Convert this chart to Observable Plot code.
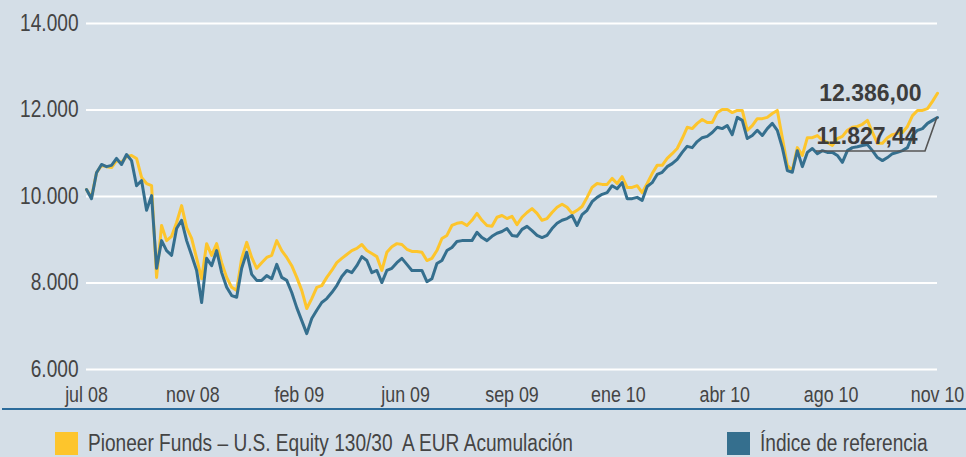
<!DOCTYPE html>
<html>
<head>
<meta charset="utf-8">
<script src="https://cdn.jsdelivr.net/npm/d3@7"></script>
<script src="https://cdn.jsdelivr.net/npm/@observablehq/plot@0.6"></script>
<style>
html, body { margin: 0; padding: 0; background: #d4dee7; width: 966px; height: 457px; overflow: hidden; }
#chart svg { display: block; }
.rule { height: 2px; background: #2b6b9b; margin-left: 2px; }
.legend { position: relative; height: 47px; font-family: "Liberation Sans", Arial, sans-serif; font-size: 23px; color: #444; }
.sw { position: absolute; top: 22px; width: 23px; height: 23px; }
.lab { position: absolute; top: 20px; line-height: 26px; white-space: pre; transform: scaleX(0.83); transform-origin: 0 50%; }
</style>
</head>
<body>
<div id="chart"></div>
<div class="rule"></div>
<div class="legend" id="legend"></div>
<script>
// Tick labels (evenly spaced along the x axis)
const xLabels = ["jul 08", "nov 08", "feb 09", "jun 09", "sep 09", "ene 10", "abr 10", "ago 10", "nov 10"];
const yTicks = [6000, 8000, 10000, 12000, 14000];

const seriesNames = ["Pioneer Funds \u2013 U.S. Equity 130/30  A EUR Acumulaci\u00f3n", "\u00cdndice de referencia"];
const seriesColors = ["#fdc52c", "#356f8e"];

const fund = [
 10160, 9980, 10550, 10720, 10690, 10670, 10830, 10790, 10920, 10950,
 10880, 10440, 10300, 10250, 8130, 9330, 8980, 9080, 9400, 9790,
 9280, 9030, 8570, 8100, 8910, 8640, 8910, 8470, 8130, 7900,
 7830, 8570, 8940, 8590, 8340, 8470, 8590, 8640, 8980, 8750,
 8590, 8400, 8130, 7830, 7410, 7640, 7900, 7940, 8130, 8290,
 8470, 8570, 8660, 8750, 8800, 8890, 8750, 8680, 8610, 8290,
 8710, 8840, 8910, 8890, 8780, 8730, 8730, 8710, 8520, 8570,
 8750, 9030, 9100, 9330, 9380, 9400, 9330, 9450, 9610, 9450,
 9330, 9310, 9520, 9560, 9490, 9540, 9350, 9520, 9630, 9720,
 9610, 9450, 9490, 9630, 9750, 9820, 9750, 9610, 9680, 9770,
 9980, 10210, 10300, 10280, 10280, 10420, 10300, 10460, 10210, 10210,
 10250, 10090, 10300, 10530, 10720, 10720, 10880, 10990, 11110, 11340,
 11600, 11570, 11690, 11780, 11710, 11710, 11940, 12010, 12010, 11940,
 11990, 11990, 11530, 11640, 11800, 11800, 11830, 11920, 11990, 11360,
 10720, 10600, 11130, 10950, 11360, 11360, 11410, 11300, 11250, 11180,
 11340, 11390, 11530, 11600, 11620, 11670, 11760, 11480, 11230, 11230,
 11360, 11430, 11460, 11480, 11620, 11870, 11990, 11990, 12030, 12200,
 12386.00
];

// Benchmark index values
const index = [
 10160, 9950, 10550, 10740, 10690, 10720, 10880, 10740, 10970, 10830,
 10250, 10370, 9680, 10020, 8340, 8980, 8750, 8640, 9260, 9450,
 8980, 8640, 8290, 7550, 8570, 8400, 8750, 8240, 7900, 7710,
 7670, 8340, 8710, 8200, 8060, 8060, 8170, 8100, 8430, 8130,
 8060, 7780, 7430, 7130, 6830, 7180, 7370, 7550, 7640, 7780,
 7940, 8150, 8290, 8240, 8400, 8610, 8520, 8240, 8290, 8010,
 8290, 8340, 8470, 8570, 8430, 8290, 8290, 8290, 8030, 8100,
 8450, 8520, 8750, 8820, 8960, 8980, 8980, 8980, 9170, 9050,
 8980, 9080, 9150, 9190, 9260, 9100, 9080, 9240, 9310, 9210,
 9100, 9050, 9100, 9260, 9380, 9450, 9490, 9560, 9330, 9580,
 9680, 9880, 9980, 10050, 10090, 10250, 10180, 10320, 9950, 9950,
 9980, 9910, 10230, 10320, 10510, 10560, 10690, 10760, 10860, 11020,
 11160, 11130, 11270, 11360, 11390, 11480, 11600, 11570, 11640, 11430,
 11830, 11760, 11340, 11410, 11530, 11410, 11570, 11690, 11530, 11130,
 10600, 10560, 11060, 10690, 11020, 11110, 10990, 11060, 11020, 11020,
 10950, 10790, 11060, 11130, 11150, 11180, 11200, 11060, 10900, 10830,
 10900, 10990, 11020, 11060, 11130, 11410, 11530, 11570, 11690, 11760,
 11827.44
];

const n = fund.length;
const rows = (arr) => arr.map((v, i) => ({i, v}));
const step = (n - 1) / (xLabels.length - 1);
const xTickPos = xLabels.map((_, k) => k * step);

const fmtY = d => d3.format(",")(d).replace(/,/g, ".");
const es = d3.formatLocale({decimal: ",", thousands: ".", grouping: [3], currency: ["", ""]});
const fmt2 = es.format(",.2f");

const lastFund = {i: n - 1, v: fund[n - 1]};
const lastIndex = {i: n - 1, v: index[n - 1]};

const chart = Plot.plot({
  width: 966,
  height: 408,
  marginLeft: 86,
  marginRight: 29,
  marginTop: 23,
  marginBottom: 39,
  style: {background: "transparent", fontFamily: "'Liberation Sans', Arial, sans-serif", fontSize: "23px", color: "#444", overflow: "visible"},
  x: {domain: [0, n - 1], axis: null},
  y: {domain: [6000, 14000], axis: null},
  marks: [
    Plot.ruleY(yTicks, {stroke: "#ffffff", strokeWidth: 2.2}),
    Plot.axisY(yTicks, {tickSize: 0, tickPadding: 8, tickFormat: fmtY, fill: "#444", label: null, fontSize: 23}),
    Plot.axisX(xTickPos, {tickSize: 0, tickPadding: 17, tickFormat: d => xLabels[Math.round(d / step)], fill: "#444", label: null, fontSize: 21.5}),
    Plot.line(rows(fund), {x: "i", y: "v", stroke: seriesColors[0], strokeWidth: 3, strokeLinejoin: "round"}),
    Plot.line(rows(index), {x: "i", y: "v", stroke: seriesColors[1], strokeWidth: 3, strokeLinejoin: "round"}),
    Plot.text([lastFund], {x: "i", y: "v", text: d => fmt2(d.v), textAnchor: "end", dx: -16, dy: 0, fontWeight: "bold", fontSize: 23, fill: "#3c3c3c"}),
    Plot.text([lastIndex], {x: "i", y: "v", text: d => fmt2(d.v), textAnchor: "end", dx: -20, dy: 19, fontWeight: "bold", fontSize: 23, fill: "#3c3c3c"})
  ]
});
document.getElementById("chart").appendChild(chart);

// condense the tick labels (the original uses a narrow typeface)
d3.select(chart).selectAll("g[aria-label$='tick label'] text").each(function () {
  const w = this.getComputedTextLength();
  this.setAttribute("textLength", (w * 0.83).toFixed(1));
  this.setAttribute("lengthAdjust", "spacingAndGlyphs");
});

// leader line from the benchmark label to the last benchmark point
const sx = chart.scale("x"), sy = chart.scale("y");
const ex = sx.apply(lastIndex.i), ey = sy.apply(lastIndex.v);
d3.select(chart).append("path")
  .attr("d", `M${ex - 121},${ey + 34}H${ex - 12}L${ex},${ey}`)
  .attr("fill", "none").attr("stroke", "#555").attr("stroke-width", 1.6);

// legend
const legend = d3.select("#legend");
const legendPos = [[55, 88], [727, 760]];
seriesNames.forEach((name, k) => {
  legend.append("div").attr("class", "sw").style("left", legendPos[k][0] + "px").style("background", seriesColors[k]);
  legend.append("div").attr("class", "lab").style("left", legendPos[k][1] + "px").text(name);
});
</script>
</body>
</html>
